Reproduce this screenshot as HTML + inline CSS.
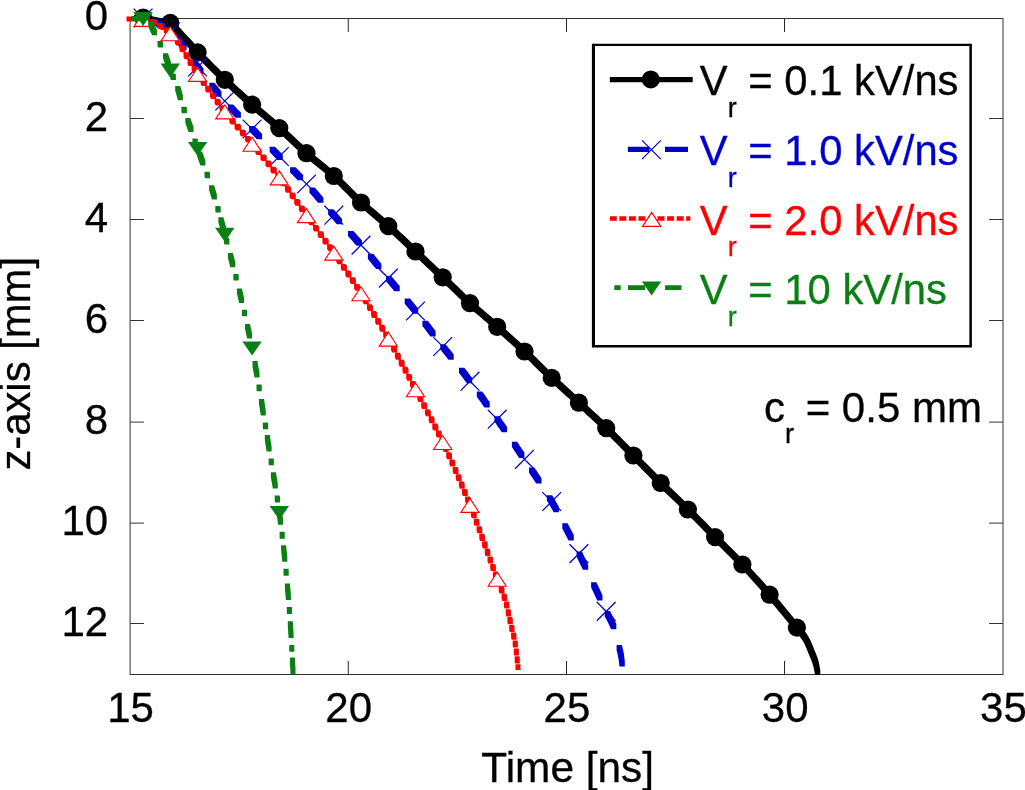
<!DOCTYPE html>
<html><head><meta charset="utf-8"><title>chart</title>
<style>html,body{margin:0;padding:0;background:#fff;}svg{display:block;will-change:transform;}text{font-family:"Liberation Sans",sans-serif;stroke-width:0.3px;paint-order:stroke;}</style></head><body>
<svg width="1025" height="790" viewBox="0 0 1025 790">
<rect x="0" y="0" width="1025" height="790" fill="#ffffff"/>
<g stroke="#333333" stroke-width="1" fill="none">
<rect x="130.10" y="18.5" width="872.90" height="656.0"/>
<line x1="348.25" y1="18.5" x2="348.25" y2="32.0" stroke="#262626"/>
<line x1="348.25" y1="674.5" x2="348.25" y2="661.0" stroke="#262626"/>
<line x1="566.50" y1="18.5" x2="566.50" y2="32.0" stroke="#262626"/>
<line x1="566.50" y1="674.5" x2="566.50" y2="661.0" stroke="#262626"/>
<line x1="784.50" y1="18.5" x2="784.50" y2="32.0" stroke="#262626"/>
<line x1="784.50" y1="674.5" x2="784.50" y2="661.0" stroke="#262626"/>
<line x1="130.10" y1="118.5" x2="144.00" y2="118.5"/>
<line x1="1003.00" y1="118.5" x2="989.10" y2="118.5"/>
<line x1="130.10" y1="219.5" x2="144.00" y2="219.5"/>
<line x1="1003.00" y1="219.5" x2="989.10" y2="219.5"/>
<line x1="130.10" y1="320.5" x2="144.00" y2="320.5"/>
<line x1="1003.00" y1="320.5" x2="989.10" y2="320.5"/>
<line x1="130.10" y1="422.1" x2="144.00" y2="422.1"/>
<line x1="1003.00" y1="422.1" x2="989.10" y2="422.1"/>
<line x1="130.10" y1="523.1" x2="144.00" y2="523.1"/>
<line x1="1003.00" y1="523.1" x2="989.10" y2="523.1"/>
<line x1="130.10" y1="623.5" x2="144.00" y2="623.5"/>
<line x1="1003.00" y1="623.5" x2="989.10" y2="623.5"/>
</g>
<g font-size="42" fill="#000" stroke="#000">
<text transform="translate(108.1 30.1) scale(1 1.030)" text-anchor="end">0</text>
<text transform="translate(108.1 131.1) scale(1 1.030)" text-anchor="end">2</text>
<text transform="translate(108.1 232.1) scale(1 1.030)" text-anchor="end">4</text>
<text transform="translate(108.1 333.1) scale(1 1.030)" text-anchor="end">6</text>
<text transform="translate(108.1 434.1) scale(1 1.030)" text-anchor="end">8</text>
<text transform="translate(108.1 535.1) scale(1 1.030)" text-anchor="end">10</text>
<text transform="translate(108.1 636.1) scale(1 1.030)" text-anchor="end">12</text>
<text transform="translate(130.5 722.2) scale(1 1.030)" text-anchor="middle">15</text>
<text transform="translate(348.7 722.2) scale(1 1.030)" text-anchor="middle">20</text>
<text transform="translate(566.9 722.2) scale(1 1.030)" text-anchor="middle">25</text>
<text transform="translate(785.2 722.2) scale(1 1.030)" text-anchor="middle">30</text>
<text transform="translate(1003.4 722.2) scale(1 1.030)" text-anchor="middle">35</text>
<text x="567.7" y="781.6" text-anchor="middle" font-size="42.4">Time [ns]</text>
<text transform="translate(30.4 363.8) rotate(-90)" text-anchor="middle" font-size="41.8">z-axis [mm]</text>
</g>
<path d="M134.4 15.0L139.6 15.0L143.6 15.0L147.6 15.4L151.5 16.1L155.5 16.9L159.4 17.7L163.4 18.4L167.3 19.2L171.3 19.9L174.7 21.6L177.2 24.8L179.9 27.8L182.6 30.8L185.3 33.7L188.1 36.7L190.8 39.6L193.5 42.6L196.2 45.5L198.9 48.5L201.7 51.4L204.5 54.3L207.3 57.2L210.1 60.0L212.9 62.9L215.7 65.8L218.6 68.6L221.4 71.4L224.3 74.2L227.2 77.0L230.1 79.7L233.0 82.5L236.0 85.2L238.9 87.9L241.9 90.6L244.9 93.3L247.9 96.0L250.9 98.7L253.9 101.3L256.9 104.0L259.9 106.6L263.0 109.2L266.0 111.8L269.1 114.4L272.2 117.0L275.2 119.6L278.2 122.3L281.3 124.9L284.2 127.6L287.2 130.3L290.1 133.1L293.1 135.8L296.0 138.5L298.9 141.3L301.9 144.0L304.8 146.7L307.8 149.4L310.8 152.1L313.9 154.7L317.0 157.2L320.1 159.8L323.2 162.3L326.3 164.8L329.4 167.4L332.5 170.0L335.5 172.6L338.5 175.3L341.4 178.1L344.3 180.9L347.1 183.7L350.0 186.6L352.8 189.4L355.6 192.2L358.5 195.1L361.4 197.8L364.3 200.6L367.3 203.2L370.4 205.9L373.4 208.5L376.5 211.1L379.5 213.7L382.6 216.3L385.6 218.9L388.7 221.5L391.7 224.2L394.6 226.9L397.6 229.6L400.5 232.4L403.5 235.1L406.4 237.8L409.3 240.6L412.2 243.4L415.1 246.1L418.1 248.9L421.0 251.6L423.9 254.4L426.8 257.1L429.7 259.9L432.7 262.7L435.6 265.4L438.5 268.2L441.4 270.9L444.3 273.7L447.2 276.5L450.1 279.3L453.0 282.0L455.9 284.8L458.8 287.6L461.7 290.4L464.6 293.2L467.5 295.9L470.4 298.7L473.4 301.4L476.4 304.0L479.4 306.7L482.5 309.3L485.5 311.9L488.6 314.5L491.6 317.1L494.7 319.7L497.7 322.4L500.7 325.0L503.7 327.7L506.7 330.3L509.7 333.0L512.7 335.7L515.7 338.4L518.6 341.1L521.6 343.8L524.5 346.6L527.5 349.3L530.4 352.1L533.3 354.8L536.2 357.6L539.0 360.5L541.9 363.3L544.7 366.1L547.6 368.9L550.5 371.7L553.4 374.5L556.3 377.2L559.3 379.9L562.3 382.6L565.2 385.3L568.2 388.0L571.2 390.7L574.2 393.4L577.2 396.1L580.1 398.8L583.1 401.5L586.0 404.2L589.0 406.9L591.9 409.7L594.9 412.4L597.8 415.1L600.8 417.9L603.7 420.6L606.6 423.4L609.5 426.2L612.3 429.0L615.2 431.8L618.0 434.7L620.9 437.5L623.7 440.4L626.5 443.2L629.3 446.1L632.1 449.0L634.9 451.8L637.8 454.7L640.6 457.5L643.4 460.4L646.2 463.2L649.0 466.1L651.9 469.0L654.7 471.8L657.5 474.7L660.4 477.5L663.2 480.3L666.1 483.2L668.9 486.0L671.8 488.8L674.7 491.5L677.6 494.3L680.5 497.1L683.4 499.9L686.2 502.7L689.1 505.5L692.0 508.4L694.8 511.2L697.6 514.0L700.4 516.9L703.3 519.8L706.1 522.6L708.9 525.5L711.7 528.4L714.5 531.2L717.3 534.1L720.2 536.9L723.0 539.8L725.9 542.6L728.7 545.4L731.6 548.2L734.4 551.1L737.2 553.9L740.0 556.8L742.8 559.7L745.6 562.6L748.4 565.5L751.1 568.4L753.8 571.4L756.5 574.4L759.2 577.3L761.9 580.3L764.6 583.3L767.2 586.3L769.8 589.4L772.5 592.4L775.1 595.4L777.7 598.5L780.3 601.6L782.9 604.7L785.4 607.8L788.0 610.9L790.5 614.0L793.0 617.1L795.6 620.2L798.1 623.3L800.6 626.4L803.3 629.4L805.8 632.6L808.1 635.9L810.0 639.4L811.6 643.1L813.1 646.8L814.6 650.5L816.2 654.2L817.6 658.0L818.7 661.8L819.5 665.8L820.3 669.7L820.3 674.9L815.1 674.9L814.3 671.0L813.5 667.0L812.4 663.2L811.0 659.4L809.4 655.7L807.9 652.0L806.4 648.3L804.8 644.6L802.9 641.1L800.6 637.8L798.1 634.6L795.4 631.6L792.9 628.5L790.4 625.4L787.8 622.3L785.3 619.2L782.8 616.1L780.2 613.0L777.7 609.9L775.1 606.8L772.5 603.7L769.9 600.6L767.3 597.6L764.6 594.6L762.0 591.5L759.4 588.5L756.7 585.5L754.0 582.5L751.3 579.6L748.6 576.6L745.9 573.6L743.2 570.7L740.4 567.8L737.6 564.9L734.8 562.0L732.0 559.1L729.2 556.3L726.4 553.4L723.5 550.6L720.7 547.8L717.8 545.0L715.0 542.1L712.1 539.3L709.3 536.4L706.5 533.6L703.7 530.7L700.9 527.8L698.1 525.0L695.2 522.1L692.4 519.2L689.6 516.4L686.8 513.6L683.9 510.7L681.0 507.9L678.2 505.1L675.3 502.3L672.4 499.5L669.5 496.7L666.6 494.0L663.7 491.2L660.9 488.4L658.0 485.5L655.2 482.7L652.3 479.9L649.5 477.0L646.7 474.2L643.8 471.3L641.0 468.4L638.2 465.6L635.4 462.7L632.6 459.9L629.7 457.0L626.9 454.2L624.1 451.3L621.3 448.4L618.5 445.6L615.7 442.7L612.8 439.9L610.0 437.0L607.1 434.2L604.3 431.4L601.4 428.6L598.5 425.8L595.6 423.1L592.6 420.3L589.7 417.6L586.7 414.9L583.8 412.1L580.8 409.4L577.9 406.7L574.9 404.0L572.0 401.3L569.0 398.6L566.0 395.9L563.0 393.2L560.0 390.5L557.1 387.8L554.1 385.1L551.1 382.4L548.2 379.7L545.3 376.9L542.4 374.1L539.5 371.3L536.7 368.5L533.8 365.7L531.0 362.8L528.1 360.0L525.2 357.3L522.3 354.5L519.3 351.8L516.4 349.0L513.4 346.3L510.5 343.6L507.5 340.9L504.5 338.2L501.5 335.5L498.5 332.9L495.5 330.2L492.5 327.6L489.5 324.9L486.4 322.3L483.4 319.7L480.3 317.1L477.3 314.5L474.2 311.9L471.2 309.2L468.2 306.6L465.2 303.9L462.3 301.1L459.4 298.4L456.5 295.6L453.6 292.8L450.7 290.0L447.8 287.2L444.9 284.5L442.0 281.7L439.1 278.9L436.2 276.1L433.3 273.4L430.4 270.6L427.5 267.9L424.5 265.1L421.6 262.3L418.7 259.6L415.8 256.8L412.9 254.1L409.9 251.3L407.0 248.6L404.1 245.8L401.2 243.0L398.3 240.3L395.3 237.6L392.4 234.8L389.4 232.1L386.5 229.4L383.5 226.7L380.4 224.1L377.4 221.5L374.3 218.9L371.3 216.3L368.2 213.7L365.2 211.1L362.1 208.4L359.1 205.8L356.2 203.0L353.3 200.3L350.4 197.4L347.6 194.6L344.8 191.8L341.9 188.9L339.1 186.1L336.2 183.3L333.3 180.5L330.3 177.8L327.3 175.2L324.2 172.6L321.1 170.0L318.0 167.5L314.9 165.0L311.8 162.4L308.7 159.9L305.6 157.3L302.6 154.6L299.6 151.9L296.7 149.2L293.7 146.5L290.8 143.7L287.9 141.0L284.9 138.3L282.0 135.5L279.0 132.8L276.1 130.1L273.0 127.5L270.0 124.8L267.0 122.2L263.9 119.6L260.8 117.0L257.8 114.4L254.7 111.8L251.7 109.2L248.7 106.5L245.7 103.9L242.7 101.2L239.7 98.5L236.7 95.8L233.7 93.1L230.8 90.4L227.8 87.7L224.9 84.9L222.0 82.2L219.1 79.4L216.2 76.6L213.4 73.8L210.5 71.0L207.7 68.1L204.9 65.2L202.1 62.4L199.3 59.5L196.5 56.6L193.7 53.7L191.0 50.7L188.3 47.8L185.6 44.8L182.9 41.9L180.1 38.9L177.4 36.0L174.7 33.0L172.0 30.0L169.5 26.8L166.1 25.1L162.1 24.4L158.2 23.6L154.2 22.9L150.3 22.1L146.3 21.3L142.4 20.6L138.4 20.2L134.4 20.2Z" fill="#000000"/>
<g fill="#000000"><circle cx="143.1" cy="17.6" r="9.1"/><circle cx="170.3" cy="22.9" r="9.1"/><circle cx="197.6" cy="52.4" r="9.1"/><circle cx="224.8" cy="79.8" r="9.1"/><circle cx="252.1" cy="104.6" r="9.1"/><circle cx="279.3" cy="128.1" r="9.1"/><circle cx="306.5" cy="153.2" r="9.1"/><circle cx="333.8" cy="176.0" r="9.1"/><circle cx="361.0" cy="202.5" r="9.1"/><circle cx="388.3" cy="226.1" r="9.1"/><circle cx="415.5" cy="251.5" r="9.1"/><circle cx="442.7" cy="277.3" r="9.1"/><circle cx="470.0" cy="303.2" r="9.1"/><circle cx="497.2" cy="326.8" r="9.1"/><circle cx="524.5" cy="351.5" r="9.1"/><circle cx="551.7" cy="377.9" r="9.1"/><circle cx="578.9" cy="402.7" r="9.1"/><circle cx="606.2" cy="428.1" r="9.1"/><circle cx="633.4" cy="455.5" r="9.1"/><circle cx="660.7" cy="483.0" r="9.1"/><circle cx="687.9" cy="509.5" r="9.1"/><circle cx="715.1" cy="537.1" r="9.1"/><circle cx="742.4" cy="564.5" r="9.1"/><circle cx="769.6" cy="594.7" r="9.1"/><circle cx="796.9" cy="627.6" r="9.1"/></g>
<path d="M151.5 18.8L156.8 18.8L160.1 20.5L163.2 22.4L166.3 24.4L166.3 29.7L161.0 29.7L157.9 27.7L154.8 25.8L151.5 24.1ZM174.7 36.0L180.0 36.0L182.3 38.9L184.5 41.8L186.6 44.8L186.6 50.1L181.3 50.1L179.2 47.1L177.0 44.2L174.7 41.3ZM191.5 59.8L196.8 59.8L199.0 62.7L201.2 65.6L203.5 68.5L203.5 73.8L198.2 73.8L195.9 70.9L193.7 68.0L191.5 65.1ZM209.3 82.8L214.6 82.8L216.9 85.7L219.2 88.5L221.5 91.4L221.5 96.7L216.2 96.7L213.9 93.8L211.6 91.0L209.3 88.1ZM227.9 104.6L233.2 104.6L235.7 107.3L238.3 109.9L240.9 112.5L240.9 117.8L235.6 117.8L233.0 115.2L230.4 112.6L227.9 109.9ZM249.1 126.0L254.4 126.0L257.0 128.6L259.5 131.2L262.1 133.9L262.1 139.2L256.8 139.2L254.2 136.5L251.7 133.9L249.1 131.3ZM269.7 146.8L275.0 146.8L277.6 149.4L280.2 152.1L282.8 154.7L282.8 160.0L277.5 160.0L274.9 157.4L272.3 154.7L269.7 152.1ZM290.1 167.2L295.4 167.2L298.0 169.8L300.6 172.4L303.1 175.0L303.1 180.3L297.8 180.3L295.3 177.7L292.7 175.1L290.1 172.5ZM309.5 187.6L314.8 187.6L317.0 190.0L319.1 192.5L321.2 195.0L323.4 197.4L323.4 202.7L318.1 202.7L315.9 200.3L313.8 197.8L311.7 195.3L309.5 192.9ZM328.1 209.2L333.4 209.2L335.6 211.6L337.8 214.0L339.9 216.5L342.1 218.9L342.1 224.2L336.8 224.2L334.6 221.8L332.5 219.3L330.3 216.9L328.1 214.5ZM348.0 230.9L353.3 230.9L355.5 233.3L357.7 235.7L359.8 238.1L362.0 240.5L362.0 245.8L356.7 245.8L354.5 243.4L352.4 241.0L350.2 238.6L348.0 236.2ZM367.9 253.7L373.2 253.7L375.2 256.2L377.3 258.8L379.3 261.3L381.4 263.8L381.4 269.1L376.1 269.1L374.0 266.6L372.0 264.1L369.9 261.5L367.9 259.0ZM386.0 275.9L391.3 275.9L393.4 278.5L395.5 281.0L397.6 283.5L399.7 285.9L399.7 291.2L394.4 291.2L392.3 288.8L390.2 286.3L388.1 283.8L386.0 281.2ZM404.7 298.4L410.0 298.4L412.1 300.9L414.2 303.4L416.2 305.9L418.2 308.5L418.2 313.8L412.9 313.8L410.9 311.2L408.9 308.7L406.8 306.2L404.7 303.7ZM422.4 320.7L427.7 320.7L429.7 323.3L431.7 325.9L433.7 328.5L435.6 331.1L435.6 336.4L430.3 336.4L428.4 333.8L426.4 331.2L424.4 328.6L422.4 326.0ZM440.3 344.2L445.6 344.2L447.6 346.7L449.6 349.3L451.7 351.8L453.7 354.4L453.7 359.7L448.4 359.7L446.4 357.1L444.3 354.6L442.3 352.0L440.3 349.5ZM459.0 367.7L464.3 367.7L466.3 370.2L468.3 372.8L470.2 375.4L472.2 378.0L472.2 383.3L466.9 383.3L464.9 380.7L463.0 378.1L461.0 375.5L459.0 373.0ZM476.8 391.5L482.1 391.5L484.1 394.1L485.9 396.8L487.8 399.4L489.7 402.1L489.7 407.4L484.4 407.4L482.5 404.7L480.6 402.1L478.8 399.4L476.8 396.8ZM494.4 416.3L499.7 416.3L501.6 419.0L503.4 421.7L505.3 424.3L507.1 427.0L507.1 432.3L501.8 432.3L500.0 429.6L498.1 427.0L496.3 424.3L494.4 421.6ZM511.9 441.8L517.2 441.8L519.0 444.5L520.8 447.2L522.6 449.9L524.4 452.6L524.4 457.9L519.1 457.9L517.3 455.2L515.5 452.5L513.7 449.8L511.9 447.1ZM529.0 467.4L534.3 467.4L536.1 470.1L537.9 472.8L539.7 475.5L541.5 478.2L541.5 483.5L536.2 483.5L534.4 480.8L532.6 478.1L530.8 475.4L529.0 472.7ZM546.9 495.2L552.2 495.2L553.9 498.1L555.6 501.1L557.3 504.0L559.0 507.0L559.0 512.3L553.7 512.3L552.0 509.3L550.3 506.4L548.6 503.4L546.9 500.5ZM562.3 523.3L567.6 523.3L569.2 526.3L570.7 529.3L572.3 532.3L573.8 535.3L573.8 540.6L568.5 540.6L567.0 537.6L565.4 534.6L563.9 531.6L562.3 528.6ZM576.6 551.5L581.9 551.5L583.5 554.8L585.0 558.0L586.6 561.2L588.2 564.5L588.2 569.8L582.9 569.8L581.3 566.5L579.7 563.3L578.2 560.1L576.6 556.8ZM591.1 582.2L596.4 582.2L598.0 585.4L599.5 588.7L601.0 591.9L602.5 595.2L602.5 600.5L597.2 600.5L595.7 597.2L594.2 594.0L592.7 590.7L591.1 587.5ZM604.7 611.1L610.0 611.1L611.7 614.3L613.4 617.5L614.9 620.7L616.3 624.0L616.3 629.3L611.0 629.3L609.6 626.0L608.1 622.8L606.4 619.6L604.7 616.4ZM616.6 645.0L621.9 645.0L622.7 648.2L623.4 651.4L624.0 654.6L624.4 657.9L624.8 661.1L624.8 666.4L619.5 666.4L619.1 663.2L618.7 659.9L618.1 656.7L617.4 653.5L616.6 650.3Z" fill="#0000cd"/>
<g fill="none" stroke="#0000cd" stroke-width="1.25"><path d="M133.7 8.6L152.5 27.4M133.7 27.4L152.5 8.6"/><path d="M160.9 22.3L179.7 41.1M160.9 41.1L179.7 22.3"/><path d="M188.2 57.6L207.0 76.4M188.2 76.4L207.0 57.6"/><path d="M215.4 91.6L234.2 110.4M215.4 110.4L234.2 91.6"/><path d="M242.7 119.6L261.5 138.4M242.7 138.4L261.5 119.6"/><path d="M269.9 147.1L288.7 165.9M269.9 165.9L288.7 147.1"/><path d="M297.1 174.6L315.9 193.4M297.1 193.4L315.9 174.6"/><path d="M324.4 205.8L343.2 224.6M324.4 224.6L343.2 205.8"/><path d="M351.6 235.7L370.4 254.5M351.6 254.5L370.4 235.7"/><path d="M378.9 268.7L397.7 287.5M378.9 287.5L397.7 268.7"/><path d="M406.1 301.6L424.9 320.4M406.1 320.4L424.9 301.6"/><path d="M433.3 337.1L452.1 355.9M433.3 355.9L452.1 337.1"/><path d="M460.6 371.8L479.4 390.6M460.6 390.6L479.4 371.8"/><path d="M487.8 409.8L506.6 428.6M487.8 428.6L506.6 409.8"/><path d="M515.1 449.9L533.9 468.7M515.1 468.7L533.9 449.9"/><path d="M542.3 492.1L561.1 510.9M542.3 510.9L561.1 492.1"/><path d="M569.5 544.2L588.3 563.0M569.5 563.0L588.3 544.2"/><path d="M596.8 602.0L615.6 620.8M596.8 620.8L615.6 602.0"/></g>
<path d="M126.5 16.6L131.4 16.6L133.8 16.6L133.8 21.4L128.9 21.4L126.5 21.4ZM134.6 16.6L139.4 16.6L141.8 16.6L141.8 21.4L136.9 21.4L134.6 21.4ZM142.5 16.7L147.4 16.7L149.7 17.1L149.7 22.0L144.8 22.0L142.5 21.6ZM150.2 19.0L155.1 19.0L157.1 20.1L157.1 25.0L152.2 25.0L150.2 23.9ZM157.1 23.0L162.0 23.0L163.9 24.2L163.9 29.1L159.0 29.1L157.1 27.9ZM163.7 27.6L168.6 27.6L170.4 29.0L170.4 33.9L165.5 33.9L163.7 32.5ZM169.9 32.6L174.8 32.6L176.4 34.3L176.4 39.2L171.5 39.2L169.9 37.5ZM175.0 38.8L179.9 38.8L181.2 40.6L181.2 45.5L176.3 45.5L175.0 43.7ZM179.4 45.4L184.3 45.4L185.5 47.4L185.5 52.3L180.6 52.3L179.4 50.3ZM183.5 52.3L188.4 52.3L189.5 54.3L189.5 59.2L184.6 59.2L183.5 57.2ZM187.5 59.2L192.4 59.2L193.5 61.2L193.5 66.1L188.6 66.1L187.5 64.1ZM191.6 66.1L196.5 66.1L197.7 68.1L197.7 73.0L192.8 73.0L191.6 71.0ZM196.0 72.8L200.9 72.8L202.2 74.7L202.2 79.6L197.3 79.6L196.0 77.7ZM200.6 79.3L205.5 79.3L206.8 81.2L206.8 86.1L201.9 86.1L200.6 84.2ZM205.2 85.9L210.1 85.9L211.4 87.7L211.4 92.6L206.5 92.6L205.2 90.8ZM209.9 92.4L214.8 92.4L216.1 94.2L216.1 99.1L211.2 99.1L209.9 97.3ZM214.6 98.8L219.5 98.8L220.9 100.7L220.9 105.6L216.0 105.6L214.6 103.7ZM219.4 105.2L224.3 105.2L225.7 107.0L225.7 111.9L220.8 111.9L219.4 110.1ZM224.3 111.5L229.2 111.5L230.7 113.3L230.7 118.2L225.8 118.2L224.3 116.4ZM229.4 117.7L234.3 117.7L235.8 119.5L235.8 124.4L230.9 124.4L229.4 122.6ZM234.6 123.8L239.5 123.8L241.0 125.5L241.0 130.4L236.1 130.4L234.6 128.7ZM239.8 129.8L244.7 129.8L246.2 131.6L246.2 136.5L241.3 136.5L239.8 134.7ZM245.0 135.9L249.9 135.9L251.4 137.7L251.4 142.6L246.5 142.6L245.0 140.8ZM250.2 142.0L255.1 142.0L256.5 143.8L256.5 148.7L251.6 148.7L250.2 146.9ZM255.3 148.2L260.2 148.2L261.6 150.0L261.6 154.9L256.7 154.9L255.3 153.1ZM260.4 154.4L265.3 154.4L266.7 156.1L266.7 161.0L261.8 161.0L260.4 159.3ZM265.4 160.6L270.3 160.6L271.8 162.4L271.8 167.3L266.9 167.3L265.4 165.5ZM270.4 166.8L275.3 166.8L276.8 168.6L276.8 173.5L271.9 173.5L270.4 171.7ZM275.4 173.1L280.3 173.1L281.7 174.9L281.7 179.8L276.8 179.8L275.4 178.0ZM280.2 179.5L285.1 179.5L286.5 181.3L286.5 186.2L281.6 186.2L280.2 184.4ZM284.9 185.9L289.8 185.9L291.2 187.8L291.2 192.7L286.3 192.7L284.9 190.8ZM289.6 192.4L294.5 192.4L295.8 194.3L295.8 199.2L290.9 199.2L289.6 197.3ZM294.2 198.9L299.1 198.9L300.5 200.8L300.5 205.7L295.6 205.7L294.2 203.8ZM298.9 205.5L303.8 205.5L305.1 207.3L305.1 212.2L300.2 212.2L298.9 210.4ZM303.5 212.0L308.4 212.0L309.8 213.8L309.8 218.7L304.9 218.7L303.5 216.9ZM308.2 218.4L313.1 218.4L314.5 220.3L314.5 225.2L309.6 225.2L308.2 223.3ZM313.0 224.9L317.9 224.9L319.2 226.7L319.2 231.6L314.3 231.6L313.0 229.8ZM317.7 231.3L322.6 231.3L324.0 233.2L324.0 238.1L319.1 238.1L317.7 236.2ZM322.4 237.8L327.3 237.8L328.7 239.6L328.7 244.5L323.8 244.5L322.4 242.7ZM327.1 244.3L332.0 244.3L333.3 246.2L333.3 251.1L328.4 251.1L327.1 249.2ZM331.7 250.8L336.6 250.8L337.9 252.7L337.9 257.6L333.0 257.6L331.7 255.7ZM336.3 257.4L341.2 257.4L342.5 259.3L342.5 264.2L337.6 264.2L336.3 262.3ZM340.8 264.0L345.7 264.0L347.0 265.9L347.0 270.8L342.1 270.8L340.8 268.9ZM345.3 270.6L350.2 270.6L351.5 272.5L351.5 277.4L346.6 277.4L345.3 275.5ZM349.7 277.3L354.6 277.3L355.9 279.2L355.9 284.1L351.0 284.1L349.7 282.2ZM354.1 283.9L359.0 283.9L360.3 285.9L360.3 290.8L355.4 290.8L354.1 288.8ZM358.5 290.7L363.4 290.7L364.6 292.6L364.6 297.5L359.7 297.5L358.5 295.6ZM362.7 297.4L367.6 297.4L368.8 299.4L368.8 304.3L363.9 304.3L362.7 302.3ZM366.9 304.2L371.8 304.2L373.0 306.2L373.0 311.1L368.1 311.1L366.9 309.1ZM371.1 311.1L376.0 311.1L377.2 313.1L377.2 318.0L372.3 318.0L371.1 316.0ZM375.2 318.0L380.1 318.0L381.3 319.9L381.3 324.8L376.4 324.8L375.2 322.9ZM379.2 324.8L384.1 324.8L385.3 326.8L385.3 331.7L380.4 331.7L379.2 329.7ZM383.2 331.8L388.1 331.8L389.3 333.8L389.3 338.7L384.4 338.7L383.2 336.7ZM387.2 338.7L392.1 338.7L393.2 340.7L393.2 345.6L388.3 345.6L387.2 343.6ZM391.1 345.7L396.0 345.7L397.1 347.7L397.1 352.6L392.2 352.6L391.1 350.6ZM394.9 352.7L399.8 352.7L400.9 354.8L400.9 359.7L396.0 359.7L394.9 357.6ZM398.7 359.8L403.6 359.8L404.7 361.8L404.7 366.7L399.8 366.7L398.7 364.7ZM402.5 366.8L407.4 366.8L408.5 368.9L408.5 373.8L403.6 373.8L402.5 371.7ZM406.2 373.9L411.1 373.9L412.2 375.9L412.2 380.8L407.3 380.8L406.2 378.8ZM410.0 381.0L414.9 381.0L415.9 383.0L415.9 387.9L411.0 387.9L410.0 385.9ZM413.7 388.1L418.6 388.1L419.7 390.1L419.7 395.0L414.8 395.0L413.7 393.0ZM417.4 395.1L422.3 395.1L423.4 397.2L423.4 402.1L418.5 402.1L417.4 400.0ZM421.2 402.2L426.1 402.2L427.2 404.2L427.2 409.1L422.3 409.1L421.2 407.1ZM424.9 409.3L429.8 409.3L430.9 411.3L430.9 416.2L426.0 416.2L424.9 414.2ZM428.7 416.3L433.6 416.3L434.6 418.4L434.6 423.3L429.7 423.3L428.7 421.2ZM432.3 423.5L437.2 423.5L438.3 425.5L438.3 430.4L433.4 430.4L432.3 428.4ZM435.9 430.6L440.8 430.6L441.8 432.7L441.8 437.6L436.9 437.6L435.9 435.5ZM439.4 437.8L444.3 437.8L445.3 439.9L445.3 444.8L440.4 444.8L439.4 442.7ZM442.8 445.0L447.7 445.0L448.7 447.1L448.7 452.0L443.8 452.0L442.8 449.9ZM446.2 452.3L451.1 452.3L452.0 454.4L452.0 459.3L447.1 459.3L446.2 457.2ZM449.4 459.6L454.3 459.6L455.3 461.7L455.3 466.6L450.4 466.6L449.4 464.5ZM452.7 466.9L457.6 466.9L458.5 469.0L458.5 473.9L453.6 473.9L452.7 471.8ZM455.8 474.3L460.7 474.3L461.6 476.4L461.6 481.3L456.7 481.3L455.8 479.2ZM459.0 481.6L463.9 481.6L464.7 483.8L464.7 488.7L459.8 488.7L459.0 486.5ZM462.0 489.0L466.9 489.0L467.8 491.2L467.8 496.1L462.9 496.1L462.0 493.9ZM465.1 496.4L470.0 496.4L470.8 498.6L470.8 503.5L465.9 503.5L465.1 501.3ZM468.0 503.8L472.9 503.8L473.8 506.0L473.8 510.9L468.9 510.9L468.0 508.7ZM471.0 511.3L475.9 511.3L476.7 513.4L476.7 518.3L471.8 518.3L471.0 516.2ZM473.8 518.8L478.7 518.8L479.5 520.9L479.5 525.8L474.6 525.8L473.8 523.7ZM476.6 526.3L481.5 526.3L482.3 528.4L482.3 533.3L477.4 533.3L476.6 531.2ZM479.3 533.8L484.2 533.8L485.0 536.0L485.0 540.9L480.1 540.9L479.3 538.7ZM482.1 541.3L487.0 541.3L487.7 543.5L487.7 548.4L482.8 548.4L482.1 546.2ZM484.8 548.8L489.7 548.8L490.4 551.0L490.4 555.9L485.5 555.9L484.8 553.7ZM487.5 556.4L492.4 556.4L493.1 558.5L493.1 563.4L488.2 563.4L487.5 561.3ZM490.2 563.9L495.1 563.9L495.9 566.1L495.9 571.0L491.0 571.0L490.2 568.8ZM492.9 571.4L497.8 571.4L498.6 573.6L498.6 578.5L493.7 578.5L492.9 576.3ZM495.7 578.9L500.6 578.9L501.5 581.0L501.5 585.9L496.6 585.9L495.7 583.8ZM498.7 586.3L503.6 586.3L504.5 588.5L504.5 593.4L499.6 593.4L498.7 591.2ZM501.6 593.8L506.5 593.8L507.2 596.0L507.2 600.9L502.3 600.9L501.6 598.7ZM503.9 601.4L508.8 601.4L509.4 603.7L509.4 608.6L504.5 608.6L503.9 606.3ZM505.7 609.2L510.6 609.2L511.1 611.5L511.1 616.4L506.2 616.4L505.7 614.1ZM507.4 617.1L512.3 617.1L512.8 619.3L512.8 624.2L507.9 624.2L507.4 622.0ZM509.2 624.9L514.1 624.9L514.6 627.1L514.6 632.0L509.7 632.0L509.2 629.8ZM511.1 632.6L516.0 632.6L516.5 634.9L516.5 639.8L511.6 639.8L511.1 637.5ZM512.7 640.5L517.6 640.5L517.9 642.7L517.9 647.6L513.0 647.6L512.7 645.4ZM513.8 648.4L518.7 648.4L518.9 650.7L518.9 655.6L514.0 655.6L513.8 653.3ZM514.7 656.3L519.6 656.3L519.8 658.6L519.8 663.5L514.9 663.5L514.7 661.2ZM515.5 664.3L520.4 664.3L520.5 664.9L520.5 669.9L515.5 669.9L515.5 669.2Z" fill="#ff0000"/>
<g fill="#fff" stroke="#ff0000" stroke-width="1.1" stroke-linejoin="miter"><path d="M143.1 12.4L152.2 26.4L134.0 26.4Z"/><path d="M170.3 26.7L179.4 40.7L161.2 40.7Z"/><path d="M197.6 67.4L206.7 81.4L188.5 81.4Z"/><path d="M224.8 104.9L233.9 118.9L215.7 118.9Z"/><path d="M252.1 137.2L261.2 151.2L243.0 151.2Z"/><path d="M279.3 170.9L288.4 184.9L270.2 184.9Z"/><path d="M306.5 208.6L315.6 222.6L297.4 222.6Z"/><path d="M333.8 246.1L342.9 260.1L324.7 260.1Z"/><path d="M361.0 286.7L370.1 300.7L351.9 300.7Z"/><path d="M388.3 332.1L397.4 346.1L379.2 346.1Z"/><path d="M415.5 382.7L424.6 396.7L406.4 396.7Z"/><path d="M442.7 435.5L451.8 449.5L433.6 449.5Z"/><path d="M470.0 498.4L479.1 512.4L460.9 512.4Z"/><path d="M497.2 572.3L506.3 586.3L488.1 586.3Z"/></g>
<path d="M131.6 15.9L136.6 15.9L140.0 15.9L143.3 15.9L143.3 20.9L138.3 20.9L135.0 20.9L131.6 20.9ZM149.7 24.9L154.7 24.9L155.2 26.3L155.2 31.3L150.2 31.3L149.7 29.9ZM148.2 21.5L153.2 21.5L154.5 24.4L155.7 27.3L157.1 30.2L157.1 35.2L152.1 35.2L150.7 32.3L149.5 29.4L148.2 26.5ZM157.5 41.1L162.5 41.1L163.1 42.4L163.1 47.4L158.1 47.4L157.5 46.1ZM163.0 53.2L168.0 53.2L169.0 56.2L170.1 59.2L171.0 62.3L171.0 67.3L166.0 67.3L165.1 64.2L164.0 61.2L163.0 58.2ZM170.3 73.6L175.3 73.6L175.9 75.0L175.9 80.0L170.9 80.0L170.3 78.6ZM175.2 86.0L180.2 86.0L181.2 89.0L182.0 92.1L182.9 95.2L182.9 100.2L177.9 100.2L177.0 97.1L176.2 94.0L175.2 91.0ZM181.4 106.7L186.4 106.7L186.9 108.2L186.9 113.2L181.9 113.2L181.4 111.7ZM185.3 117.9L190.3 117.9L191.4 120.9L192.4 123.9L193.5 126.9L193.5 131.9L188.5 131.9L187.4 128.9L186.4 125.9L185.3 122.9ZM192.4 138.4L197.4 138.4L197.9 139.8L197.9 144.8L192.9 144.8L192.4 143.4ZM197.1 151.4L202.1 151.4L203.2 154.4L204.3 157.4L205.4 160.4L205.4 165.4L200.4 165.4L199.3 162.4L198.2 159.4L197.1 156.4ZM204.5 171.8L209.5 171.8L210.0 173.2L210.0 178.2L205.0 178.2L204.5 176.8ZM209.1 185.3L214.1 185.3L215.1 188.4L216.0 191.4L216.9 194.5L216.9 199.5L211.9 199.5L211.0 196.4L210.1 193.4L209.1 190.3ZM215.3 206.1L220.3 206.1L220.7 207.5L220.7 212.5L215.7 212.5L215.3 211.1ZM218.4 217.2L223.4 217.2L224.2 220.3L225.1 223.4L225.9 226.4L225.9 231.4L220.9 231.4L220.1 228.4L219.2 225.3L218.4 222.2ZM224.0 238.1L229.0 238.1L229.4 239.6L229.4 244.6L224.4 244.6L224.0 243.1ZM227.9 253.0L232.9 253.0L233.7 256.1L234.5 259.2L235.3 262.3L235.3 267.3L230.3 267.3L229.5 264.2L228.7 261.1L227.9 258.0ZM233.3 274.1L238.3 274.1L238.7 275.5L238.7 280.5L233.7 280.5L233.3 279.1ZM236.9 288.6L241.9 288.6L242.7 291.7L243.4 294.8L244.1 298.0L244.1 303.0L239.1 303.0L238.4 299.8L237.7 296.7L236.9 293.6ZM241.9 309.7L246.9 309.7L247.2 311.2L247.2 316.2L242.2 316.2L241.9 314.7ZM245.0 324.0L250.0 324.0L250.7 327.1L251.4 330.2L252.1 333.4L252.1 338.4L247.1 338.4L246.4 335.2L245.7 332.1L245.0 329.0ZM249.5 345.2L254.5 345.2L254.8 346.7L254.8 351.7L249.8 351.7L249.5 350.2ZM252.5 361.1L257.5 361.1L258.1 364.9L258.8 368.7L259.5 372.5L259.5 377.5L254.5 377.5L253.8 373.7L253.1 369.9L252.5 366.1ZM256.5 384.4L261.5 384.4L261.8 386.3L261.8 391.3L256.8 391.3L256.5 389.4ZM259.0 399.1L264.0 399.1L264.6 402.9L265.2 406.7L265.8 410.5L265.8 415.5L260.8 415.5L260.2 411.7L259.6 407.9L259.0 404.1ZM262.8 422.5L267.8 422.5L268.1 424.3L268.1 429.3L263.1 429.3L262.8 427.5ZM264.8 435.1L269.8 435.1L270.4 438.9L271.0 442.7L271.6 446.5L271.6 451.5L266.6 451.5L266.0 447.7L265.4 443.9L264.8 440.1ZM268.6 458.5L273.6 458.5L273.9 460.3L273.9 465.3L268.9 465.3L268.6 463.5ZM270.9 472.2L275.9 472.2L276.5 476.0L277.2 479.8L277.8 483.6L277.8 488.6L272.8 488.6L272.2 484.8L271.5 481.0L270.9 477.2ZM274.7 495.5L279.7 495.5L280.0 497.4L280.0 502.4L275.0 502.4L274.7 500.5ZM276.6 508.3L281.6 508.3L282.1 512.1L282.6 515.9L283.1 519.8L283.1 524.8L278.1 524.8L277.6 520.9L277.1 517.1L276.6 513.3ZM279.6 531.8L284.6 531.8L284.8 533.7L284.8 538.7L279.8 538.7L279.6 536.8ZM281.1 545.2L286.1 545.2L286.5 549.0L286.9 552.9L287.3 556.7L287.3 561.7L282.3 561.7L281.9 557.9L281.5 554.0L281.1 550.2ZM283.5 568.8L288.5 568.8L288.7 570.7L288.7 575.7L283.7 575.7L283.5 573.8ZM284.9 583.4L289.9 583.4L290.2 587.2L290.6 591.1L290.9 594.9L290.9 599.9L285.9 599.9L285.6 596.1L285.2 592.2L284.9 588.4ZM286.8 607.0L291.8 607.0L292.0 608.9L292.0 613.9L287.0 613.9L286.8 612.0ZM287.8 621.3L292.8 621.3L293.1 625.2L293.3 629.0L293.6 632.9L293.6 637.9L288.6 637.9L288.3 634.0L288.1 630.2L287.8 626.3ZM289.2 645.0L294.2 645.0L294.3 646.8L294.3 651.8L289.3 651.8L289.2 650.0ZM289.9 657.5L294.9 657.5L295.1 661.4L295.3 665.2L295.5 669.1L295.5 674.1L290.5 674.1L290.3 670.2L290.1 666.4L289.9 662.5Z" fill="#0b7f14"/>
<g fill="#0b7f14"><path d="M143.1 26.1L152.8 12.0L133.4 12.0Z"/><path d="M170.3 77.7L180.0 63.6L160.6 63.6Z"/><path d="M197.6 156.1L207.3 142.0L187.9 142.0Z"/><path d="M224.8 241.9L234.5 227.8L215.1 227.8Z"/><path d="M252.1 355.6L261.8 341.5L242.4 341.5Z"/><path d="M279.3 520.0L289.0 505.9L269.6 505.9Z"/></g>
<rect x="592" y="43.8" width="379.9" height="303.7" fill="#fff"/>
<path fill-rule="evenodd" fill="#000" d="M591.9 43.75H971.9V347.55H591.9ZM595 46V345H969.35V46Z"/>
<line x1="609.8" y1="79.6" x2="692.7" y2="79.6" stroke="#000000" stroke-width="5.3"/>
<circle cx="650.8" cy="79.4" r="9.0" fill="#000000"/>
<path d="M627.9 149.3H649.4M665 149.3H688" stroke="#0000cd" stroke-width="5.2" fill="none"/>
<g fill="none" stroke="#0000cd" stroke-width="1.2"><path d="M642.0 140.3L660.8 159.1M642.0 159.1L660.8 140.3"/></g>
<line x1="609.8" y1="218.5" x2="690.4" y2="218.5" stroke="#ff0000" stroke-width="4.7" stroke-dasharray="7 2.55"/>
<path d="M651.7 212.4L660.8 226.4L642.6 226.4Z" fill="#fff" stroke="#ff0000" stroke-width="1.2"/>
<path d="M614.3 287.6H620.7M627.9 287.6H645M665.1 287.6H681.5" stroke="#0b7f14" stroke-width="4.6" fill="none"/>
<path d="M651.6 295.6L661.3 281.5L641.9 281.5Z" fill="#0b7f14"/>
<text transform="translate(699.8 95.2) scale(1 1.025)" font-size="41.8" fill="#000000" stroke="#000000">V<tspan font-size="27" dy="21.2">r</tspan><tspan dy="-21.2"> = 0.1 kV/ns</tspan></text>
<text transform="translate(699.8 164.9) scale(1 1.025)" font-size="41.8" fill="#0000cd" stroke="#0000cd">V<tspan font-size="27" dy="21.2">r</tspan><tspan dy="-21.2"> = 1.0 kV/ns</tspan></text>
<text transform="translate(699.8 234.5) scale(1 1.025)" font-size="41.8" fill="#ff0000" stroke="#ff0000">V<tspan font-size="27" dy="21.2">r</tspan><tspan dy="-21.2"> = 2.0 kV/ns</tspan></text>
<text transform="translate(699.8 304.1) scale(1 1.025)" font-size="41.8" fill="#0b7f14" stroke="#0b7f14">V<tspan font-size="27" dy="21.2">r</tspan><tspan dy="-21.2"> = 10 kV/ns</tspan></text>
<text x="764" y="422" font-size="42" fill="#000" stroke="#000">c<tspan font-size="27" dy="21">r</tspan><tspan dy="-21"> = 0.5 mm</tspan></text>
</svg></body></html>
